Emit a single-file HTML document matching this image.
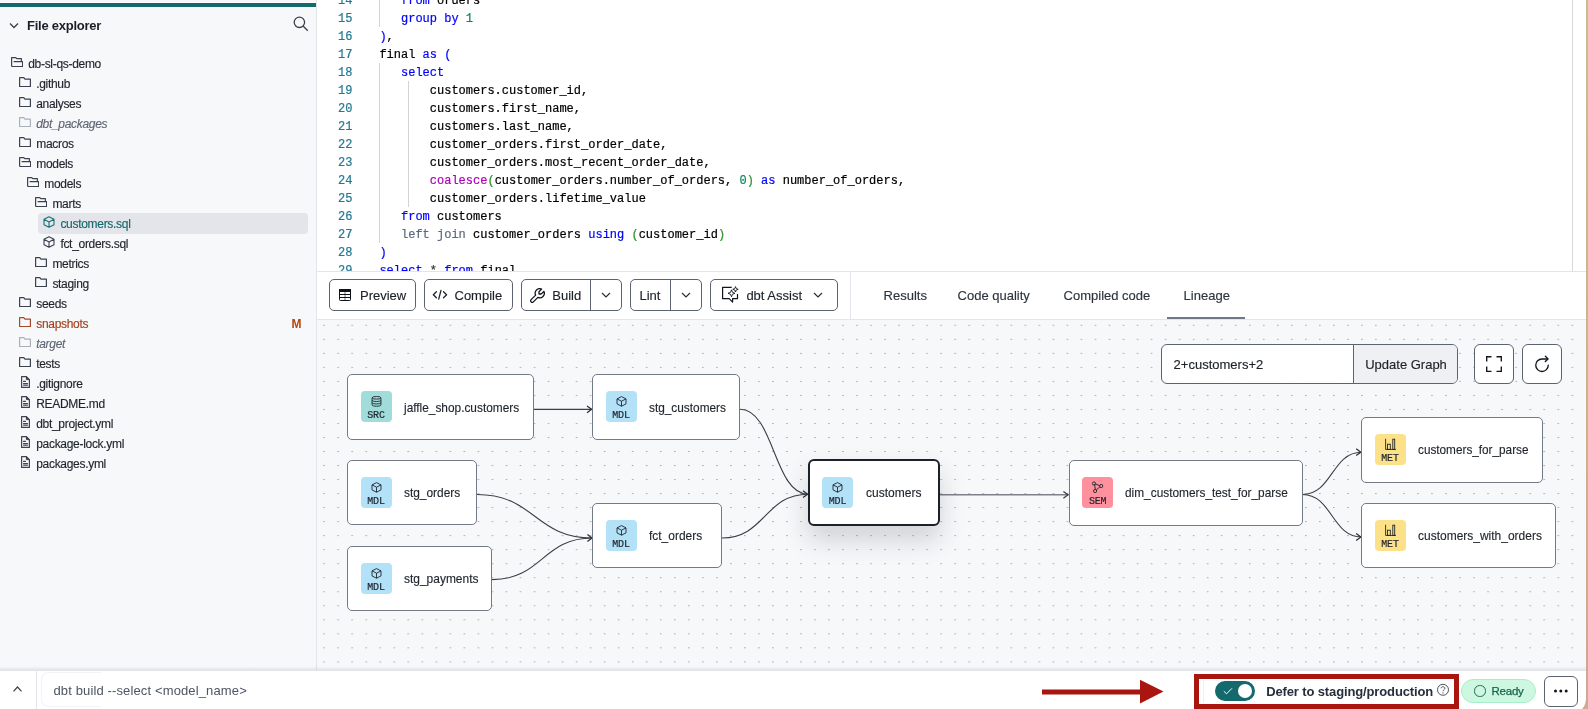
<!DOCTYPE html>
<html><head><meta charset="utf-8"><style>*{box-sizing:border-box;margin:0;padding:0}
html,body{width:1588px;height:709px;overflow:hidden;background:#fff;font-family:"Liberation Sans",sans-serif;color:#1e232b}
.a{position:absolute}
#sb{position:absolute;left:0;top:0;width:316px;height:670px;background:#f7f8fa}
#sbb{position:absolute;left:316px;top:0;width:1px;height:670px;background:#e3e5ea}
#teal{position:absolute;left:0;top:3px;width:316px;height:4px;background:#13696d}
#teal2{position:absolute;left:0;top:2px;width:316px;height:1px;background:#fff}
#teal3{position:absolute;left:0;top:7px;width:316px;height:1px;background:#fff}
.hdr{position:absolute;left:27px;top:17.7px;font-weight:700;font-size:13px;line-height:16px;color:#1b1f27;letter-spacing:-0.25px}
.tr{position:absolute;font-size:12px;line-height:16px;white-space:nowrap;letter-spacing:-0.3px;-webkit-text-stroke:0.15px currentColor}
.it{font-style:italic}
#sel{position:absolute;left:38px;top:213px;width:270px;height:21px;background:#e4e5ea;border-radius:4px}
#ed{position:absolute;left:317px;top:0;width:1269px;height:271px;background:#fff;overflow:hidden}
.ln{position:absolute;left:0;width:35.5px;text-align:right;font-family:"Liberation Mono",monospace;font-size:12px;line-height:18px;color:#237893}
.cl{position:absolute;left:62.4px;font-family:"Liberation Mono",monospace;font-size:12px;line-height:18px;color:#000;white-space:pre}
.k{color:#0000ff}.n{color:#098658}.f{color:#b000b8}.g{color:#319331}.lj{color:#5a6a7e}.s{color:#333}
.ig{position:absolute;width:1px;background:#d3d3d3}
#edsb{position:absolute;left:1572px;top:0;width:1px;height:271px;background:#d8d8d8}
#edb{position:absolute;left:317px;top:271px;width:1269px;height:1px;background:#e3e5ea}
#tb{position:absolute;left:317px;top:272px;width:1269px;height:47px;background:#fff}
#tbb{position:absolute;left:317px;top:319px;width:1269px;height:1px;background:#e3e5ea}
.btn{position:absolute;top:279px;height:32px;border:1px solid #5b6270;border-radius:5px;background:#fff}
.bt{position:absolute;font-size:13px;line-height:16px;color:#1c2129;white-space:nowrap}
.tab{position:absolute;font-size:13px;line-height:16px;color:#2c3440;white-space:nowrap}
#cv{position:absolute;left:317px;top:320px;width:1269px;height:350px;background:#f7f8fa}
.node{position:absolute;background:#fff;border:1px solid #737a87;border-radius:5px}
.node.sel{border:2px solid #1b212b;border-radius:6px;box-shadow:0 14px 26px rgba(20,25,35,0.17)}
.bdg{position:absolute;width:31px;height:31px;border-radius:4px}
.bdg b{position:absolute;left:0;width:31px;top:19.9px;letter-spacing:-0.15px;text-align:center;font-family:"Liberation Mono",monospace;font-weight:400;font-size:10px;line-height:10px;color:#1f242c}
.lbl{position:absolute;font-size:13px;line-height:16px;color:#1f242c;white-space:nowrap;transform-origin:0 0}
#bsh{position:absolute;left:0;top:666px;width:1586px;height:5px;background:linear-gradient(rgba(40,45,60,0),rgba(40,45,60,0.04) 40%,rgba(40,45,60,0.14))}
#bb{position:absolute;left:0;top:671px;width:1586px;height:38px;background:#fff}
#rstrip{position:absolute;left:1586px;top:0;width:2px;height:709px;background:linear-gradient(#c4bf8f,#cdb08e 60%,#d1a595)}
#root{position:absolute;left:0;top:0;width:1588px;height:709px;overflow:hidden;will-change:transform}
.cl,.ln{-webkit-text-stroke:0.2px currentColor}
.bt,.tab,.lbl{-webkit-text-stroke:0.15px currentColor}
.bdg b{-webkit-text-stroke:0.2px #1f242c}
</style></head><body><div id="root">
<div id="sb"></div><div id="teal2"></div><div id="teal"></div><div id="teal3"></div><div id="sbb"></div>
<svg class="a" style="left:9px;top:21.5px" width="11" height="8" viewBox="0 0 11 8"><path d="M1 1.5 L5 5.5 L9 1.5" fill="none" stroke="#3a404c" stroke-width="1.3"/></svg>
<div class="hdr">File explorer</div>
<svg class="a" style="left:292px;top:15px" width="18" height="18" viewBox="0 0 18 18"><circle cx="7.4" cy="7.3" r="5.2" fill="none" stroke="#3a404c" stroke-width="1.3"/><path d="M11.3 11.2 L15.8 15.7" stroke="#3a404c" stroke-width="1.3"/></svg>
<div id="sel"></div>
<svg class="a" style="left:10.9px;top:56.9px" width="12.2" height="10.2" viewBox="0 0 12.2 10.2"><path d="M0.6 9.6 V0.6 H4.8 L5.8 1.7 H10.4 V4.5 M2.6 4.6 H11.6 V9.6 H0.6" fill="none" stroke="#3b4250" stroke-width="1.2" stroke-linejoin="round"/></svg>
<div class="tr" style="left:28.2px;top:56px;color:#1f242c">db-sl-qs-demo</div>
<svg class="a" style="left:18.9px;top:76.9px" width="12" height="10.2" viewBox="0 0 12 10.2"><path d="M0.6 0.6 H4.8 L6 2.1 H11.4 V9.6 H0.6 Z" fill="none" stroke="#3b4250" stroke-width="1.2" stroke-linejoin="round"/></svg>
<div class="tr" style="left:36.2px;top:76px;color:#1f242c">.github</div>
<svg class="a" style="left:18.9px;top:96.9px" width="12" height="10.2" viewBox="0 0 12 10.2"><path d="M0.6 0.6 H4.8 L6 2.1 H11.4 V9.6 H0.6 Z" fill="none" stroke="#3b4250" stroke-width="1.2" stroke-linejoin="round"/></svg>
<div class="tr" style="left:36.2px;top:96px;color:#1f242c">analyses</div>
<svg class="a" style="left:18.9px;top:116.9px" width="12" height="10.2" viewBox="0 0 12 10.2"><path d="M0.6 0.6 H4.8 L6 2.1 H11.4 V9.6 H0.6 Z" fill="none" stroke="#aab0ba" stroke-width="1.2" stroke-linejoin="round"/></svg>
<div class="tr it" style="left:36.2px;top:116px;color:#5f6673">dbt_packages</div>
<svg class="a" style="left:18.9px;top:136.9px" width="12" height="10.2" viewBox="0 0 12 10.2"><path d="M0.6 0.6 H4.8 L6 2.1 H11.4 V9.6 H0.6 Z" fill="none" stroke="#3b4250" stroke-width="1.2" stroke-linejoin="round"/></svg>
<div class="tr" style="left:36.2px;top:136px;color:#1f242c">macros</div>
<svg class="a" style="left:18.9px;top:156.9px" width="12.2" height="10.2" viewBox="0 0 12.2 10.2"><path d="M0.6 9.6 V0.6 H4.8 L5.8 1.7 H10.4 V4.5 M2.6 4.6 H11.6 V9.6 H0.6" fill="none" stroke="#3b4250" stroke-width="1.2" stroke-linejoin="round"/></svg>
<div class="tr" style="left:36.2px;top:156px;color:#1f242c">models</div>
<svg class="a" style="left:26.9px;top:176.9px" width="12.2" height="10.2" viewBox="0 0 12.2 10.2"><path d="M0.6 9.6 V0.6 H4.8 L5.8 1.7 H10.4 V4.5 M2.6 4.6 H11.6 V9.6 H0.6" fill="none" stroke="#3b4250" stroke-width="1.2" stroke-linejoin="round"/></svg>
<div class="tr" style="left:44.3px;top:176px;color:#1f242c">models</div>
<svg class="a" style="left:34.9px;top:196.9px" width="12.2" height="10.2" viewBox="0 0 12.2 10.2"><path d="M0.6 9.6 V0.6 H4.8 L5.8 1.7 H10.4 V4.5 M2.6 4.6 H11.6 V9.6 H0.6" fill="none" stroke="#3b4250" stroke-width="1.2" stroke-linejoin="round"/></svg>
<div class="tr" style="left:52.4px;top:196px;color:#1f242c">marts</div>
<svg class="a" style="left:42.8px;top:215.8px" width="12" height="12" viewBox="0 0 12 12"><path d="M6 0.7 L11 3.3 V8.7 L6 11.3 L1 8.7 V3.3 Z M1 3.3 L6 6 L11 3.3 M6 6 V11.3" fill="none" stroke="#1a7276" stroke-width="1.1" stroke-linejoin="round"/></svg>
<div class="tr" style="left:60.4px;top:216px;color:#13696d">customers.sql</div>
<svg class="a" style="left:42.8px;top:235.8px" width="12" height="12" viewBox="0 0 12 12"><path d="M6 0.7 L11 3.3 V8.7 L6 11.3 L1 8.7 V3.3 Z M1 3.3 L6 6 L11 3.3 M6 6 V11.3" fill="none" stroke="#3b4250" stroke-width="1.1" stroke-linejoin="round"/></svg>
<div class="tr" style="left:60.4px;top:236px;color:#1f242c">fct_orders.sql</div>
<svg class="a" style="left:34.9px;top:256.9px" width="12" height="10.2" viewBox="0 0 12 10.2"><path d="M0.6 0.6 H4.8 L6 2.1 H11.4 V9.6 H0.6 Z" fill="none" stroke="#3b4250" stroke-width="1.2" stroke-linejoin="round"/></svg>
<div class="tr" style="left:52.4px;top:256px;color:#1f242c">metrics</div>
<svg class="a" style="left:34.9px;top:276.9px" width="12" height="10.2" viewBox="0 0 12 10.2"><path d="M0.6 0.6 H4.8 L6 2.1 H11.4 V9.6 H0.6 Z" fill="none" stroke="#3b4250" stroke-width="1.2" stroke-linejoin="round"/></svg>
<div class="tr" style="left:52.4px;top:276px;color:#1f242c">staging</div>
<svg class="a" style="left:18.9px;top:296.9px" width="12" height="10.2" viewBox="0 0 12 10.2"><path d="M0.6 0.6 H4.8 L6 2.1 H11.4 V9.6 H0.6 Z" fill="none" stroke="#3b4250" stroke-width="1.2" stroke-linejoin="round"/></svg>
<div class="tr" style="left:36.2px;top:296px;color:#1f242c">seeds</div>
<svg class="a" style="left:18.9px;top:316.9px" width="12" height="10.2" viewBox="0 0 12 10.2"><path d="M0.6 0.6 H4.8 L6 2.1 H11.4 V9.6 H0.6 Z" fill="none" stroke="#a5492a" stroke-width="1.2" stroke-linejoin="round"/></svg>
<div class="tr" style="left:36.2px;top:316px;color:#a3401a">snapshots</div>
<svg class="a" style="left:18.9px;top:336.9px" width="12" height="10.2" viewBox="0 0 12 10.2"><path d="M0.6 0.6 H4.8 L6 2.1 H11.4 V9.6 H0.6 Z" fill="none" stroke="#aab0ba" stroke-width="1.2" stroke-linejoin="round"/></svg>
<div class="tr it" style="left:36.2px;top:336px;color:#5f6673">target</div>
<svg class="a" style="left:18.9px;top:356.9px" width="12" height="10.2" viewBox="0 0 12 10.2"><path d="M0.6 0.6 H4.8 L6 2.1 H11.4 V9.6 H0.6 Z" fill="none" stroke="#3b4250" stroke-width="1.2" stroke-linejoin="round"/></svg>
<div class="tr" style="left:36.2px;top:356px;color:#1f242c">tests</div>
<svg class="a" style="left:20.5px;top:375.8px" width="9" height="12" viewBox="0 0 9 12"><path d="M0.6 0.6 H5.4 L8.4 3.6 V11.4 H0.6 Z" fill="none" stroke="#3b4250" stroke-width="1.2" stroke-linejoin="round"/><path d="M5.4 0.6 V3.6 H8.4" fill="#3b4250" stroke="#3b4250" stroke-width="1"/><path d="M2.1 5.4 H4.9 M2.1 7.6 H6.9 M2.1 9.3 H6.9" stroke="#3b4250" stroke-width="1.1"/></svg>
<div class="tr" style="left:36.2px;top:376px;color:#1f242c">.gitignore</div>
<svg class="a" style="left:20.5px;top:395.8px" width="9" height="12" viewBox="0 0 9 12"><path d="M0.6 0.6 H5.4 L8.4 3.6 V11.4 H0.6 Z" fill="none" stroke="#3b4250" stroke-width="1.2" stroke-linejoin="round"/><path d="M5.4 0.6 V3.6 H8.4" fill="#3b4250" stroke="#3b4250" stroke-width="1"/><path d="M2.1 5.4 H4.9 M2.1 7.6 H6.9 M2.1 9.3 H6.9" stroke="#3b4250" stroke-width="1.1"/></svg>
<div class="tr" style="left:36.2px;top:396px;color:#1f242c">README.md</div>
<svg class="a" style="left:20.5px;top:415.8px" width="9" height="12" viewBox="0 0 9 12"><path d="M0.6 0.6 H5.4 L8.4 3.6 V11.4 H0.6 Z" fill="none" stroke="#3b4250" stroke-width="1.2" stroke-linejoin="round"/><path d="M5.4 0.6 V3.6 H8.4" fill="#3b4250" stroke="#3b4250" stroke-width="1"/><path d="M2.1 5.4 H4.9 M2.1 7.6 H6.9 M2.1 9.3 H6.9" stroke="#3b4250" stroke-width="1.1"/></svg>
<div class="tr" style="left:36.2px;top:416px;color:#1f242c">dbt_project.yml</div>
<svg class="a" style="left:20.5px;top:435.8px" width="9" height="12" viewBox="0 0 9 12"><path d="M0.6 0.6 H5.4 L8.4 3.6 V11.4 H0.6 Z" fill="none" stroke="#3b4250" stroke-width="1.2" stroke-linejoin="round"/><path d="M5.4 0.6 V3.6 H8.4" fill="#3b4250" stroke="#3b4250" stroke-width="1"/><path d="M2.1 5.4 H4.9 M2.1 7.6 H6.9 M2.1 9.3 H6.9" stroke="#3b4250" stroke-width="1.1"/></svg>
<div class="tr" style="left:36.2px;top:436px;color:#1f242c">package-lock.yml</div>
<svg class="a" style="left:20.5px;top:455.8px" width="9" height="12" viewBox="0 0 9 12"><path d="M0.6 0.6 H5.4 L8.4 3.6 V11.4 H0.6 Z" fill="none" stroke="#3b4250" stroke-width="1.2" stroke-linejoin="round"/><path d="M5.4 0.6 V3.6 H8.4" fill="#3b4250" stroke="#3b4250" stroke-width="1"/><path d="M2.1 5.4 H4.9 M2.1 7.6 H6.9 M2.1 9.3 H6.9" stroke="#3b4250" stroke-width="1.1"/></svg>
<div class="tr" style="left:36.2px;top:456px;color:#1f242c">packages.yml</div>
<div class="a" style="left:291.4px;top:315.6px;font-size:12px;font-weight:700;color:#b3470f;line-height:16px">M</div>
<div id="ed">
<div class="ln" style="top:-8px">14</div>
<div class="cl" style="top:-8px">   <span class="k">from</span> orders</div>
<div class="ln" style="top:10px">15</div>
<div class="cl" style="top:10px">   <span class="k">group by</span> <span class="n">1</span></div>
<div class="ln" style="top:28px">16</div>
<div class="cl" style="top:28px"><span class="k">)</span>,</div>
<div class="ln" style="top:46px">17</div>
<div class="cl" style="top:46px">final <span class="k">as</span> <span class="k">(</span></div>
<div class="ln" style="top:64px">18</div>
<div class="cl" style="top:64px">   <span class="k">select</span></div>
<div class="ln" style="top:82px">19</div>
<div class="cl" style="top:82px">       customers.customer_id,</div>
<div class="ln" style="top:100px">20</div>
<div class="cl" style="top:100px">       customers.first_name,</div>
<div class="ln" style="top:118px">21</div>
<div class="cl" style="top:118px">       customers.last_name,</div>
<div class="ln" style="top:136px">22</div>
<div class="cl" style="top:136px">       customer_orders.first_order_date,</div>
<div class="ln" style="top:154px">23</div>
<div class="cl" style="top:154px">       customer_orders.most_recent_order_date,</div>
<div class="ln" style="top:172px">24</div>
<div class="cl" style="top:172px">       <span class="f">coalesce</span><span class="g">(</span>customer_orders.number_of_orders, <span class="n">0</span><span class="g">)</span> <span class="k">as</span> number_of_orders,</div>
<div class="ln" style="top:190px">25</div>
<div class="cl" style="top:190px">       customer_orders.lifetime_value</div>
<div class="ln" style="top:208px">26</div>
<div class="cl" style="top:208px">   <span class="k">from</span> customers</div>
<div class="ln" style="top:226px">27</div>
<div class="cl" style="top:226px">   <span class="lj">left join</span> customer_orders <span class="k">using</span> <span class="g">(</span>customer_id<span class="g">)</span></div>
<div class="ln" style="top:244px">28</div>
<div class="cl" style="top:244px"><span class="k">)</span></div>
<div class="ln" style="top:262px">29</div>
<div class="cl" style="top:262px"><span class="k">select</span> <span class="s">*</span> <span class="k">from</span> final</div>
<div class="ig" style="left:62px;top:0;height:27px"></div>
<div class="ig" style="left:62px;top:63px;height:180px"></div>
<div class="ig" style="left:91px;top:81px;height:126px"></div>
</div>
<div id="edsb"></div><div id="edb"></div>
<div id="tb"></div><div id="tbb"></div>
<div class="btn" style="left:329px;width:87px"></div>
<div class="btn" style="left:424px;width:88.5px"></div>
<div class="btn" style="left:521px;width:100.5px"></div>
<div class="btn" style="left:630px;width:71.5px"></div>
<div class="btn" style="left:710px;width:128px"></div>
<div class="a" style="left:590px;top:280px;width:1px;height:30px;background:#5b6270"></div>
<div class="a" style="left:670px;top:280px;width:1px;height:30px;background:#5b6270"></div>
<svg class="a" style="left:339px;top:289px" width="12" height="12" viewBox="0 0 12 12"><rect x="0.5" y="0.5" width="11" height="11" rx="0.8" fill="none" stroke="#0e121a" stroke-width="1"/><rect x="0" y="0" width="12" height="3" fill="#0e121a"/><path d="M0.5 5.5 H11.5 M0.5 8.5 H11.5" stroke="#0e121a" stroke-width="1"/><path d="M6 3 V11.5" stroke="#0e121a" stroke-width="0.6"/></svg>
<svg class="a" style="left:432px;top:289px" width="16" height="12" viewBox="0 0 16 12"><path d="M4.4 2.8 L1.3 5.7 L4.4 8.7 M11.5 2.8 L14.6 5.7 L11.5 8.7 M9 1.4 L6.7 10.2" fill="none" stroke="#1f242c" stroke-width="1.3" stroke-linecap="round" stroke-linejoin="round"/></svg>
<svg class="a" style="left:529.5px;top:287.5px" width="15" height="15" viewBox="2 2 20 20"><g transform="translate(24,0) scale(-1,1)"><path d="M7 10h3v-3l-3.5 -3.5a6 6 0 0 1 8 8l6 6a2 2 0 0 1 -3 3l-6 -6a6 6 0 0 1 -8 -8l3.5 3.5" fill="none" stroke="#10141b" stroke-width="1.7" stroke-linejoin="round"/></g></svg>
<svg class="a" style="left:721px;top:286px" width="18" height="18" viewBox="0 0 18 18"><path d="M10.7 1.4 H1.6 V12.7 H8.2 L11.6 16.1 V12.7 H16.5 V8" fill="none" stroke="#10141b" stroke-width="1.2" stroke-linejoin="round"/><path d="M10.5 3.8 Q10.68 7.12 14.0 7.3 Q10.68 7.47 10.5 10.8 Q10.32 7.47 7.0 7.3 Q10.32 7.12 10.5 3.8 Z M14.5 0.5999999999999996 Q14.63 3.17 17.2 3.3 Q14.63 3.43 14.5 6.0 Q14.37 3.43 11.8 3.3 Q14.37 3.17 14.5 0.5999999999999996 Z" fill="none" stroke="#10141b" stroke-width="0.9" stroke-linejoin="round"/></svg>
<svg class="a" style="left:600.7px;top:292.0px" width="10" height="6" viewBox="0 0 10 6"><path d="M1 1 L5 5 L9 1" fill="none" stroke="#2a303b" stroke-width="1.2"/></svg>
<svg class="a" style="left:680.9px;top:292.0px" width="10" height="6" viewBox="0 0 10 6"><path d="M1 1 L5 5 L9 1" fill="none" stroke="#2a303b" stroke-width="1.2"/></svg>
<svg class="a" style="left:813.0px;top:292.0px" width="10" height="6" viewBox="0 0 10 6"><path d="M1 1 L5 5 L9 1" fill="none" stroke="#2a303b" stroke-width="1.2"/></svg>
<div class="bt" style="left:360px;top:288px;">Preview</div>
<div class="bt" style="left:454.5px;top:288px;">Compile</div>
<div class="bt" style="left:552.3px;top:288px;">Build</div>
<div class="bt" style="left:639.5px;top:288px;">Lint</div>
<div class="bt" style="left:746.4px;top:288px;">dbt Assist</div>
<div class="a" style="left:850px;top:272px;width:1px;height:47px;background:#e3e5ea"></div>
<div class="tab" style="left:883.6px;top:288px;">Results</div>
<div class="tab" style="left:957.6px;top:288px;">Code quality</div>
<div class="tab" style="left:1063.6px;top:288px;">Compiled code</div>
<div class="tab" style="left:1183.6px;top:288px;">Lineage</div>
<div class="a" style="left:1167px;top:317px;width:78px;height:2px;background:#6f7888"></div>
<div id="cv"></div>
<svg class="a" style="left:317px;top:320px" width="1268" height="350" viewBox="317 320 1268 350"><defs><pattern id="dots" x="323.3" y="324.8" width="14.024" height="14.024" patternUnits="userSpaceOnUse"><rect x="0" y="0" width="1.6" height="1.0" fill="#a5aab2"/></pattern></defs><rect x="317" y="320" width="1269" height="350" fill="url(#dots)"/><path d="M534 409.3 C563.0 409.3 563.0 409.3 592 409.3" fill="none" stroke="#3a3f48" stroke-width="1.3"/><path d="M587.0 405.90000000000003 L591.6 409.3 L587.0 412.7" fill="none" stroke="#2e333c" stroke-width="1.3" stroke-linejoin="miter"/><path d="M740 409.2 C774.0 409.2 774.0 494.2 808 494.2" fill="none" stroke="#3a3f48" stroke-width="1.1"/><path d="M803.0 490.8 L807.6 494.2 L803.0 497.59999999999997" fill="none" stroke="#2e333c" stroke-width="1.3" stroke-linejoin="miter"/><path d="M477 494.5 C534.75 494.5 534.75 538 592.5 538" fill="none" stroke="#3a3f48" stroke-width="1.1"/><path d="M492 579.6 C542.25 579.6 542.25 538 592.5 538" fill="none" stroke="#3a3f48" stroke-width="1.1"/><path d="M587.4 534.6 L592 538 L587.4 541.4" fill="none" stroke="#2e333c" stroke-width="1.3" stroke-linejoin="miter"/><path d="M722 538 C765.0 538 765.0 494.2 808 494.2" fill="none" stroke="#3a3f48" stroke-width="1.1"/><path d="M940 494.8 C1004.25 494.8 1004.25 494.8 1068.5 494.8" fill="none" stroke="#7d828a" stroke-width="1.4"/><path d="M1063.4 491.40000000000003 L1068 494.8 L1063.4 498.2" fill="none" stroke="#3a3f48" stroke-width="1.3" stroke-linejoin="miter"/><path d="M1302.5 494.5 C1332.0 494.5 1332.0 452.2 1361.5 452.2" fill="none" stroke="#3a3f48" stroke-width="1.1"/><path d="M1356.2 448.8 L1360.8 452.2 L1356.2 455.59999999999997" fill="none" stroke="#2e333c" stroke-width="1.3" stroke-linejoin="miter"/><path d="M1302.5 494.5 C1332.0 494.5 1332.0 537 1361.5 537" fill="none" stroke="#3a3f48" stroke-width="1.1"/><path d="M1356.2 533.6 L1360.8 537 L1356.2 540.4" fill="none" stroke="#2e333c" stroke-width="1.3" stroke-linejoin="miter"/></svg>
<div class="node" style="left:347px;top:374px;width:187px;height:66px"></div>
<div class="bdg" style="left:360.5px;top:391px;background:#9fdcda"><svg class="a" style="left:10px;top:5px" width="11" height="11" viewBox="0 0 11 11"><ellipse cx="5.5" cy="1.8" rx="4.4" ry="1.3" fill="none" stroke="#1f242c" stroke-width="0.9"/><path d="M1.1 1.8 V9 C1.1 10.6 9.9 10.6 9.9 9 V1.8 M1.1 4.3 C1.1 5.9 9.9 5.9 9.9 4.3 M1.1 6.7 C1.1 8.3 9.9 8.3 9.9 6.7" fill="none" stroke="#1f242c" stroke-width="0.9"/></svg><b>SRC</b></div>
<div class="lbl" style="left:404.3px;top:399.8px;transform:scaleX(0.912)">jaffle_shop.customers</div>
<div class="node" style="left:592px;top:374px;width:147.5px;height:66px"></div>
<div class="bdg" style="left:605.5px;top:391px;background:#b3e2f8"><svg class="a" style="left:10px;top:5px" width="11" height="11" viewBox="0 0 11 11"><path d="M5.5 0.6 L10 2.9 V7.9 L5.5 10.2 L1 7.9 V2.9 Z M1 2.9 L5.5 5.2 L10 2.9 M5.5 5.2 V10.2" fill="none" stroke="#1f242c" stroke-width="0.9" stroke-linejoin="round"/></svg><b>MDL</b></div>
<div class="lbl" style="left:649.3px;top:400.1px;transform:scaleX(0.910)">stg_customers</div>
<div class="node" style="left:347px;top:460px;width:130px;height:65px"></div>
<div class="bdg" style="left:360.5px;top:477px;background:#b3e2f8"><svg class="a" style="left:10px;top:5px" width="11" height="11" viewBox="0 0 11 11"><path d="M5.5 0.6 L10 2.9 V7.9 L5.5 10.2 L1 7.9 V2.9 Z M1 2.9 L5.5 5.2 L10 2.9 M5.5 5.2 V10.2" fill="none" stroke="#1f242c" stroke-width="0.9" stroke-linejoin="round"/></svg><b>MDL</b></div>
<div class="lbl" style="left:403.8px;top:485.1px;transform:scaleX(0.915)">stg_orders</div>
<div class="node" style="left:347px;top:546px;width:145px;height:65px"></div>
<div class="bdg" style="left:360.5px;top:563px;background:#b3e2f8"><svg class="a" style="left:10px;top:5px" width="11" height="11" viewBox="0 0 11 11"><path d="M5.5 0.6 L10 2.9 V7.9 L5.5 10.2 L1 7.9 V2.9 Z M1 2.9 L5.5 5.2 L10 2.9 M5.5 5.2 V10.2" fill="none" stroke="#1f242c" stroke-width="0.9" stroke-linejoin="round"/></svg><b>MDL</b></div>
<div class="lbl" style="left:403.8px;top:570.8px;transform:scaleX(0.920)">stg_payments</div>
<div class="node" style="left:592px;top:503px;width:130px;height:65px"></div>
<div class="bdg" style="left:605.5px;top:520px;background:#b3e2f8"><svg class="a" style="left:10px;top:5px" width="11" height="11" viewBox="0 0 11 11"><path d="M5.5 0.6 L10 2.9 V7.9 L5.5 10.2 L1 7.9 V2.9 Z M1 2.9 L5.5 5.2 L10 2.9 M5.5 5.2 V10.2" fill="none" stroke="#1f242c" stroke-width="0.9" stroke-linejoin="round"/></svg><b>MDL</b></div>
<div class="lbl" style="left:648.9px;top:527.8px;transform:scaleX(0.919)">fct_orders</div>
<div class="node sel" style="left:808px;top:459px;width:132px;height:67px"></div>
<div class="bdg" style="left:822px;top:477px;background:#b3e2f8"><svg class="a" style="left:10px;top:5px" width="11" height="11" viewBox="0 0 11 11"><path d="M5.5 0.6 L10 2.9 V7.9 L5.5 10.2 L1 7.9 V2.9 Z M1 2.9 L5.5 5.2 L10 2.9 M5.5 5.2 V10.2" fill="none" stroke="#1f242c" stroke-width="0.9" stroke-linejoin="round"/></svg><b>MDL</b></div>
<div class="lbl" style="left:866.0px;top:485.0px;transform:scaleX(0.925)">customers</div>
<div class="node" style="left:1068.7px;top:460px;width:234px;height:65.5px"></div>
<div class="bdg" style="left:1082.2px;top:477px;background:#ff909d"><svg class="a" style="left:9px;top:4px" width="13" height="12" viewBox="0 0 13 12"><path d="M3.5 3 L4.3 8.3 M4.3 2.9 L8.7 4.7 M8.9 5.9 L5.2 9" stroke="#1f242c" stroke-width="0.9"/><circle cx="3" cy="2.5" r="1.6" fill="none" stroke="#1f242c" stroke-width="0.9"/><circle cx="10.2" cy="5" r="1.6" fill="none" stroke="#1f242c" stroke-width="0.9"/><circle cx="4.1" cy="10" r="1.6" fill="none" stroke="#1f242c" stroke-width="0.9"/></svg><b>SEM</b></div>
<div class="lbl" style="left:1124.6px;top:485.1px;transform:scaleX(0.912)">dim_customers_test_for_parse</div>
<div class="node" style="left:1361px;top:417px;width:181.5px;height:65.5px"></div>
<div class="bdg" style="left:1374.5px;top:434px;background:#fde189"><svg class="a" style="left:10px;top:4px" width="12" height="12" viewBox="0 0 12 12"><path d="M0.6 0.8 V11.4 H11" fill="none" stroke="#1f242c" stroke-width="0.9"/><rect x="2.5" y="6.2" width="2.8" height="5.2" fill="none" stroke="#1f242c" stroke-width="0.9"/><rect x="7.8" y="1.2" width="1.9" height="10.2" fill="none" stroke="#1f242c" stroke-width="0.9"/></svg><b>MET</b></div>
<div class="lbl" style="left:1418.2px;top:442.1px;transform:scaleX(0.905)">customers_for_parse</div>
<div class="node" style="left:1361px;top:503px;width:194.5px;height:65px"></div>
<div class="bdg" style="left:1374.5px;top:520px;background:#fde189"><svg class="a" style="left:10px;top:4px" width="12" height="12" viewBox="0 0 12 12"><path d="M0.6 0.8 V11.4 H11" fill="none" stroke="#1f242c" stroke-width="0.9"/><rect x="2.5" y="6.2" width="2.8" height="5.2" fill="none" stroke="#1f242c" stroke-width="0.9"/><rect x="7.8" y="1.2" width="1.9" height="10.2" fill="none" stroke="#1f242c" stroke-width="0.9"/></svg><b>MET</b></div>
<div class="lbl" style="left:1418.2px;top:528.1px;transform:scaleX(0.922)">customers_with_orders</div>
<div class="a" style="left:1161px;top:344px;width:297px;height:40px;border:1px solid #5b6270;border-radius:6px;background:rgba(255,255,255,0.92);overflow:hidden"><div class="a" style="left:191px;top:0;width:105px;height:38px;background:#eef0f4;border-left:1px solid #5b6270"></div></div>
<div class="bt" style="left:1173.6px;top:357px">2+customers+2</div>
<div class="bt" style="left:1365.2px;top:357px">Update Graph</div>
<div class="a" style="left:1474px;top:344px;width:40px;height:40px;border:1px solid #5b6270;border-radius:6px;background:#fff"></div>
<div class="a" style="left:1522px;top:344px;width:40px;height:40px;border:1px solid #5b6270;border-radius:6px;background:#fff"></div>
<svg class="a" style="left:1485px;top:355px" width="18" height="18" viewBox="0 0 18 18"><path d="M1.7 6.6 V1.7 H6.5 M11.5 1.7 H16.3 V6.6 M16.3 11.4 V16.3 H11.5 M6.5 16.3 H1.7 V11.4" fill="none" stroke="#11151c" stroke-width="1.35"/></svg>
<svg class="a" style="left:1533px;top:353px" width="20" height="22" viewBox="0 0 20 22"><path d="M15.25 12.2 A6.25 6.25 0 1 1 9 5.95 H14.6" fill="none" stroke="#11151c" stroke-width="1.35" stroke-linecap="round"/><path d="M12.4 3.2 L15 5.9 L12.3 8.5" fill="none" stroke="#11151c" stroke-width="1.35" stroke-linecap="round" stroke-linejoin="round"/></svg>
<div id="bsh"></div><div id="bb"></div>
<svg class="a" style="left:12px;top:685px" width="11" height="8" viewBox="0 0 11 8"><path d="M1.5 6.3 L5.5 2 L9.5 6.3" fill="none" stroke="#3a404c" stroke-width="1.2"/></svg>
<div class="a" style="left:36px;top:671px;width:1px;height:38px;background:#e3e5ea"></div>
<div class="a" style="left:40.5px;top:672.3px;width:60px;height:35px;border:1px solid #f2f3f5;border-right:none;border-radius:8px 0 0 8px"></div>
<div class="a" style="left:53.5px;top:683px;font-size:13px;line-height:16px;color:#4d5562;white-space:nowrap;letter-spacing:0.13px">dbt build --select &lt;model_name&gt;</div>
<svg class="a" style="left:1040px;top:676px" width="126" height="30" viewBox="1040 676 126 30"><path d="M1042 692.1 H1142" stroke="#a8160f" stroke-width="5"/><path d="M1140 679.8 L1163.5 691.6 L1140 703.4 Z" fill="#a8160f"/></svg>
<div class="a" style="left:1193.5px;top:674.3px;width:265px;height:34.3px;border:5px solid #a8160f"></div>
<div class="a" style="left:1203px;top:680px;width:1px;height:23px;background:#eceef1"></div>
<div class="a" style="left:1215px;top:681px;width:40px;height:20px;border-radius:10px;background:#14696d"></div>
<div class="a" style="left:1237.8px;top:683.8px;width:14.4px;height:14.4px;border-radius:50%;background:#fff"></div>
<svg class="a" style="left:1222px;top:686px" width="12" height="10" viewBox="0 0 12 10"><path d="M1.8 5.2 L4.5 7.8 L10 2.3" fill="none" stroke="#fff" stroke-width="1"/></svg>
<div class="a" style="left:1266.2px;top:684px;font-size:13px;font-weight:700;line-height:16px;color:#262f3d;white-space:nowrap;letter-spacing:-0.13px">Defer to staging/production</div>
<svg class="a" style="left:1436px;top:683px" width="14" height="14" viewBox="0 0 14 14"><circle cx="7" cy="6.8" r="5.5" fill="none" stroke="#3b4250" stroke-width="0.9"/><path d="M5.1 5.3 C5.1 3.2 8.9 3.2 8.9 5.3 C8.9 6.6 7 6.6 7 8.2" fill="none" stroke="#3b4250" stroke-width="0.9"/><circle cx="7" cy="9.9" r="0.6" fill="#3b4250"/></svg>
<div class="a" style="left:1461px;top:679px;width:75px;height:24px;border-radius:12px;background:#cdf7e1;border:1px solid #a6efca"></div>
<div class="a" style="left:1474.3px;top:685.3px;width:11.4px;height:11.4px;border-radius:50%;border:1.1px solid #1d6c50"></div>
<div class="a" style="left:1491.4px;top:684px;font-size:11.5px;line-height:14px;color:#17654a;white-space:nowrap;letter-spacing:-0.2px;-webkit-text-stroke:0.25px #17654a">Ready</div>
<div class="a" style="left:1544px;top:675.5px;width:34px;height:31.5px;border:1px solid #5b6270;border-radius:6px;background:#fff"></div>
<svg class="a" style="left:1552px;top:688px" width="18" height="6" viewBox="0 0 18 6"><circle cx="3.5" cy="3" r="1.5" fill="#11151c"/><circle cx="8.8" cy="3" r="1.5" fill="#11151c"/><circle cx="14.2" cy="3" r="1.5" fill="#11151c"/></svg>
<div id="rstrip"></div>
<svg class="a" style="left:1578px;top:697px" width="10" height="12" viewBox="0 0 10 12"><path d="M8 0 C8 6 6.5 9.5 4 12 H10 V0 Z" fill="#d0a896"/></svg>
</div></body></html>
